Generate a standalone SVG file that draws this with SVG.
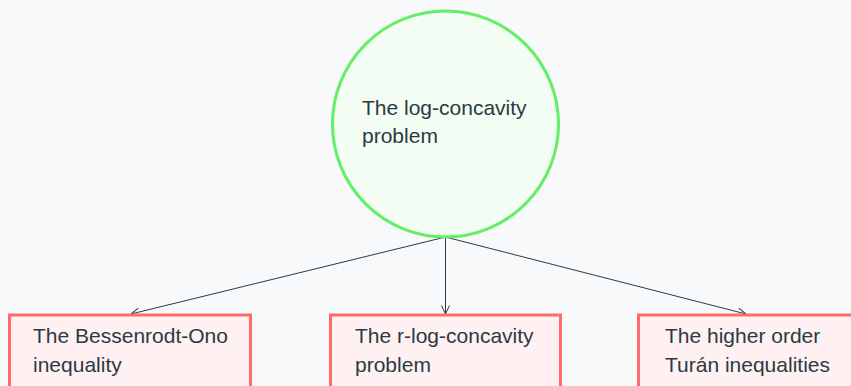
<svg xmlns="http://www.w3.org/2000/svg" width="851" height="386" viewBox="0 0 851 386">
<style>
.bg{fill:#f8f9fa}
.circ{fill:#f3fdf3;stroke:#66ee66;stroke-width:3}
.box{fill:#fff1f1;stroke:#ff6a6a;stroke-width:3}
text{font-family:"Liberation Sans",Arial,sans-serif;font-size:21px;fill:#2b3a42}
.edge{stroke:#2b3a42;stroke-width:1;fill:none;marker-end:url(#arr)}
</style>
<defs>
<marker id="arr" viewBox="0 0 10 10" refX="9.5" refY="5" markerWidth="10" markerHeight="10" markerUnits="userSpaceOnUse" orient="auto">
<path d="M1,1 L9.5,5 L1,9" fill="none" stroke="#2b3a42" stroke-width="1"/>
</marker>
</defs>
<rect class="bg" x="0" y="0" width="851" height="386"/>
<g id="connectors">
<line class="edge" x1="445.5" y1="237" x2="131" y2="314"/>
<line class="edge" x1="445.5" y1="237" x2="445.5" y2="314"/>
<line class="edge" x1="445.5" y1="237" x2="746" y2="314"/>
</g>
<g id="root">
<circle class="circ" cx="445.5" cy="124" r="113"/>
<text x="362" y="115">The log-concavity</text>
<text x="362" y="143">problem</text>
</g>
<g id="bessenrodt">
<rect class="box" x="9.5" y="315" width="241" height="80"/>
<text x="33" y="343">The Bessenrodt-Ono</text>
<text x="33" y="372">inequality</text>
</g>
<g id="rlog">
<rect class="box" x="330.5" y="315" width="230" height="80"/>
<text x="355" y="343">The r-log-concavity</text>
<text x="355" y="372">problem</text>
</g>
<g id="turan">
<rect class="box" x="638.5" y="315" width="241" height="80"/>
<text x="665" y="343">The higher order</text>
<text x="665" y="372">Turán inequalities</text>
</g>
</svg>
